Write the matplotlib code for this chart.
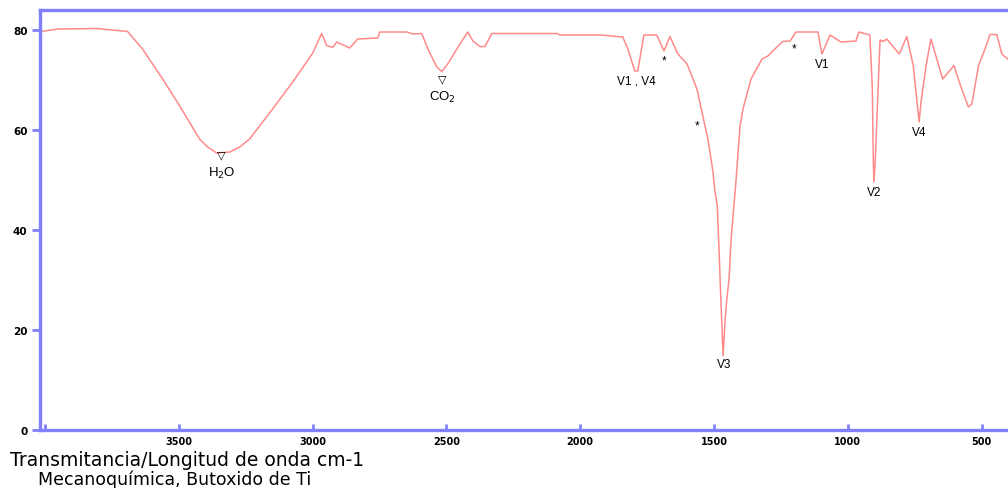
#!/usr/bin/env python3
"""IR spectrum: Mecanoquimica, Butoxido de Ti."""

import matplotlib
matplotlib.use("Agg")
import matplotlib.pyplot as plt

# wavenumber (cm-1) and transmittance (%)
wavenumber = [
    4013, 3952, 3806, 3691, 3635, 3560, 3496, 3422, 3392, 3358, 3309, 3272,
    3235, 3149, 3074, 2999, 2966, 2947, 2924, 2910, 2861, 2831, 2756, 2749,
    2648, 2625, 2592, 2569, 2536, 2517, 2495, 2461, 2420, 2401, 2375, 2356,
    2330, 2087, 2076, 1927, 1841, 1822, 1796, 1785, 1762, 1714, 1687, 1665,
    1635, 1601, 1564, 1542, 1523, 1504, 1497, 1488, 1482, 1475, 1469, 1466,
    1459, 1453, 1444, 1437, 1428, 1419, 1403, 1392, 1362, 1321, 1299, 1273,
    1243, 1216, 1194, 1112, 1097, 1067, 1026, 970, 959, 918, 909, 905, 903,
    898, 887, 880, 868, 855, 808, 780, 756, 743, 734, 727, 708, 690, 668,
    646, 604, 575, 550, 537, 512, 488, 469, 444, 425, 406, 398,
]
transmittance = [
    79.7, 80.2, 80.3, 79.7, 76.2, 70.2, 64.8, 58.2, 56.6, 55.4, 55.6, 56.6,
    58.2, 64.2, 69.6, 75.4, 79.3, 76.9, 76.5, 77.6, 76.4, 78.2, 78.4, 79.6,
    79.6, 79.2, 79.3, 76.2, 72.6, 71.7, 73.2, 76.2, 79.6, 77.8, 76.7, 76.7,
    79.3, 79.3, 79.0, 79.0, 78.6, 76.2, 71.8, 71.8, 79.0, 79.0, 75.8, 78.7,
    75.2, 73.2, 68.2, 62.8, 58.2, 51.6, 47.8, 44.8, 36.8, 26.6, 18.6, 14.8,
    21.8, 25.8, 30.2, 37.6, 43.6, 49.2, 60.8, 64.2, 70.2, 74.2, 74.8, 76.2,
    77.7, 77.8, 79.6, 79.6, 75.2, 79.0, 77.6, 77.8, 79.6, 79.0, 68.6, 53.6,
    49.6, 53.6, 68.6, 78.0, 77.7, 78.2, 75.2, 78.7, 72.9, 66.2, 61.6, 65.6,
    72.9, 78.2, 74.2, 70.2, 72.9, 68.2, 64.6, 65.2, 72.9, 76.2, 79.1, 79.1,
    75.2, 74.3, 74.0,
]

# band labels: (text, wavenumber, transmittance)
band_labels = [
    ("V1 , V4", 1790, 69.8),
    ("V3", 1463, 13.2),
    ("V1", 1095, 73.2),
    ("V2", 902, 47.6),
    ("V4", 735, 59.6),
]
star_marks = [(1685, 74.0), (1563, 61.0), (1203, 76.4)]
gas_labels = [("H$_2$O", 3340, 51.5), ("CO$_2$", 2515, 66.8)]

x_ticks = [4000, 3500, 3000, 2500, 2000, 1500, 1000, 500]
x_tick_labels = ["", "3500", "3000", "2500", "2000", "1500", "1000", "500"]
y_ticks = [0, 20, 40, 60, 80]

fig = plt.figure(figsize=(10.08, 4.89), dpi=100)
ax = fig.add_axes([40 / 1008, 58 / 489, 1 - 40 / 1008, 420 / 489])

ax.plot(wavenumber, transmittance, color="#ff8a8a", linewidth=1.1)

ax.set_xlim(4018, 402)
ax.set_ylim(0, 84)

frame = "#8080ff"
for side in ("left", "bottom", "top"):
    ax.spines[side].set_color(frame)
    ax.spines[side].set_linewidth(2.4)
ax.spines["right"].set_visible(False)

ax.set_xticks(x_ticks)
ax.set_xticklabels(x_tick_labels)
ax.set_yticks(y_ticks)
ax.tick_params(axis="x", direction="in", length=4, width=2, color=frame,
               labelsize=7, pad=4)
ax.tick_params(axis="y", direction="out", length=6, width=2, color=frame,
               labelsize=7.5, pad=3)
for lab in ax.get_xticklabels() + ax.get_yticklabels():
    lab.set_fontweight("bold")

for text, wn, t in band_labels:
    ax.text(wn, t, text, ha="center", va="center", fontsize=8.5,
            family="Liberation Sans")
for wn, t in star_marks:
    ax.text(wn, t, "*", ha="center", va="center", fontsize=8.5,
            family="Liberation Sans")
for text, wn, t in gas_labels:
    ax.text(wn, t + 3.6, "▽", ha="center", va="center", fontsize=8,
            family="DejaVu Sans")
    ax.text(wn, t, text, ha="center", va="center", fontsize=9.5,
            family="Liberation Sans")

fig.text(10 / 1008, 1 - 466 / 489, "Transmitancia/Longitud de onda cm-1",
         ha="left", va="baseline", fontsize=13.5, family="DejaVu Sans")
fig.text(38 / 1008, 1 - 485 / 489, "Mecanoquímica, Butoxido de Ti",
         ha="left", va="baseline", fontsize=12.5, family="DejaVu Sans")

fig.savefig("out.png", dpi=100)
